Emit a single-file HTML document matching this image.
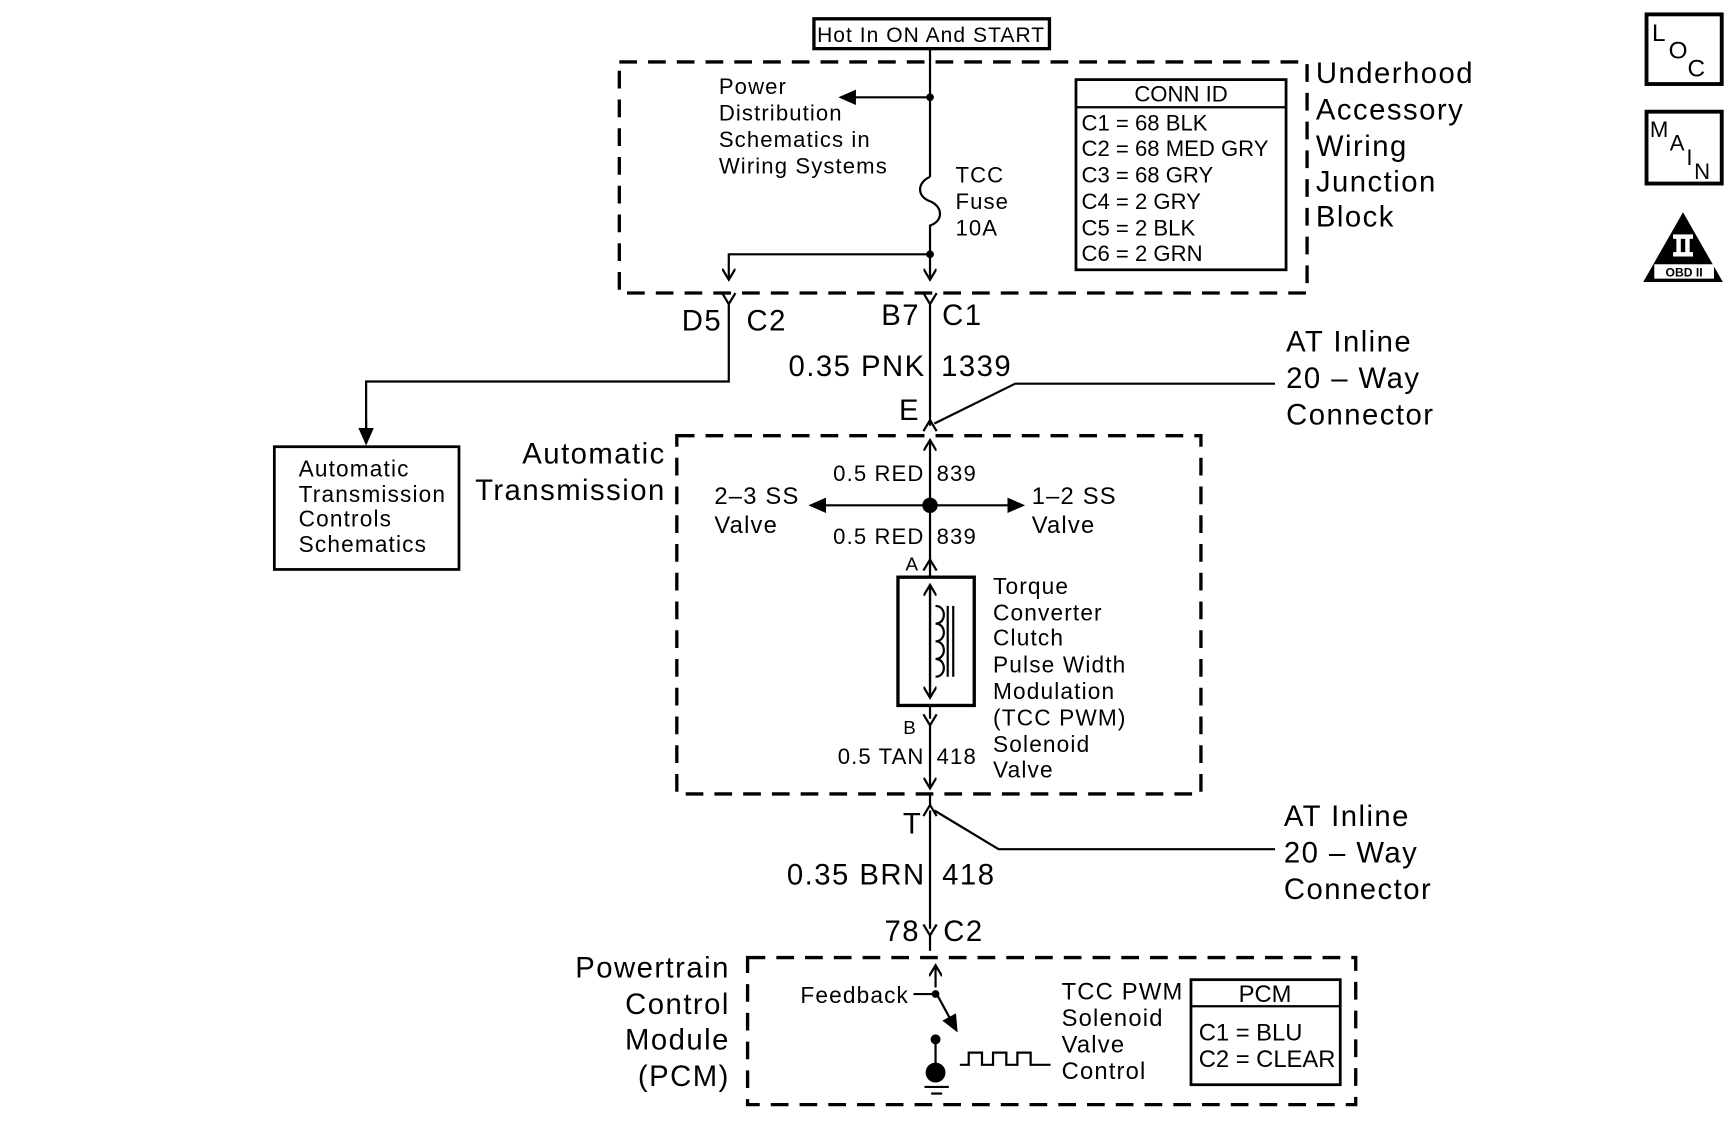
<!DOCTYPE html><html><head><style>html,body{margin:0;padding:0;background:#fff}svg{display:block}text{font-family:"Liberation Sans",sans-serif;fill:#000;letter-spacing:0.05em}.n text{letter-spacing:0}</style></head><body>
<svg width="1734" height="1140" viewBox="0 0 1568 1031" xmlns="http://www.w3.org/2000/svg">
<defs><marker id="a" markerWidth="10" markerHeight="10" refX="9" refY="5" orient="auto" markerUnits="userSpaceOnUse"><path d="M0,0 L10,5 L0,10 z" fill="#000"/></marker>
<marker id="b" markerWidth="16" markerHeight="14" refX="14" refY="7" orient="auto" markerUnits="userSpaceOnUse"><path d="M0,0 L16,7 L0,14 z" fill="#000"/></marker>
<marker id="o" markerWidth="12" markerHeight="12" refX="10" refY="6" orient="auto" markerUnits="userSpaceOnUse"><path d="M0,0 L10,6 L0,12" fill="none" stroke="#000" stroke-width="2"/></marker></defs>
<g fill="none" stroke="#000">
<rect x="736" y="17" width="213" height="27" stroke-width="3"/>
<g stroke-width="3" stroke-dasharray="16,10">
<rect x="560" y="56" width="622" height="209"/>
<rect x="612" y="394" width="474" height="324"/>
<rect x="676" y="866" width="550" height="133"/>
</g>
<g stroke-width="2">
<line x1="841" y1="44" x2="841" y2="160"/>
<line x1="841" y1="88" x2="760" y2="88" marker-end="url(#b)"/>
<path d="M841,160 c-12,5 -12,18 0,22 c12,5 12,18 0,22 L841,253" marker-end="url(#o)"/>
<path d="M841,230 H659 V253" marker-end="url(#o)"/>
<path d="M653,265 L659,275 L665,265 M659,275 V345 H331 V400" /><line x1="331" y1="380" x2="331" y2="401" marker-end="url(#b)"/>
<path d="M835,265 L841,275 L847,265 M841,275 V385"/>
<path d="M835,390 L841,380 L847,390 M845,383 L918,347 H1153"/>
<line x1="841" y1="457" x2="841" y2="398" marker-end="url(#o)"/>
<line x1="841" y1="457" x2="733" y2="457" marker-end="url(#b)"/>
<line x1="841" y1="457" x2="925" y2="457" marker-end="url(#b)"/>
<line x1="841" y1="457" x2="841" y2="512"/>
<path d="M835,516 L841,506 L847,516 M841,508 V522"/>
<rect x="812" y="522" width="69" height="116" stroke-width="3"/>
<line x1="841" y1="530" x2="841" y2="631" marker-end="url(#o)"/><line x1="841" y1="630" x2="841" y2="529" marker-end="url(#o)"/>
<path d="M846,548 c10,0 10,16 0,16 c10,0 10,16 0,16 c10,0 10,16 0,16 c10,0 10,16 0,16"/>
<line x1="857" y1="548" x2="857" y2="612"/><line x1="862" y1="548" x2="862" y2="612"/>
<path d="M841,638 V650 M835,646 L841,656 L847,646 M841,656 V713" marker-end="url(#o)"/>
<path d="M841,718 V728 M835,738 L841,728 L847,738 M845,733 L903,768 H1153 M841,733 V840"/>
<path d="M835,836 L841,846 L847,836 M841,846 V860"/>
<line x1="846" y1="893" x2="846" y2="873" marker-end="url(#o)"/>
<line x1="826" y1="899" x2="846" y2="899"/>
<line x1="846" y1="897" x2="865" y2="932" marker-end="url(#b)"/>
<line x1="846" y1="940" x2="846" y2="970"/>
<line x1="836" y1="983" x2="858" y2="983"/><line x1="842" y1="989" x2="852" y2="989"/>
<path d="M868,963 H876 V952 H888 V963 H898 V952 H910 V963 H920 V952 H932 V963 H950"/>
<rect x="973" y="72" width="190" height="172" stroke-width="2.5"/><line x1="973" y1="97" x2="1163" y2="97"/>
<rect x="1077" y="886" width="135" height="95" stroke-width="2.5"/><line x1="1077" y1="910" x2="1212" y2="910"/>
<rect x="248" y="404" width="167" height="111" stroke-width="2.5"/>
<rect x="1489" y="13" width="68" height="63" stroke-width="3.5"/>
<rect x="1489" y="101" width="68" height="65" stroke-width="3.5"/>
</g>
</g>
<circle cx="841" cy="88" r="3.5"/><circle cx="841" cy="230" r="3.5"/><circle cx="841" cy="457" r="7"/><circle cx="846" cy="899" r="3.5"/><circle cx="846" cy="940" r="4.5"/><circle cx="846" cy="970" r="9"/>
<path d="M1522,192 L1558,255 L1486,255 z"/>
<rect x="1513" y="212" width="18" height="4" fill="#fff"/><rect x="1513" y="228" width="18" height="4" fill="#fff"/><rect x="1516" y="214" width="4" height="16" fill="#fff"/><rect x="1524" y="214" width="4" height="16" fill="#fff"/>
<rect x="1496" y="239" width="54" height="13" fill="#fff"/>
<g class="n"><text x="1523" y="250" font-size="11" text-anchor="middle" font-weight="bold">OBD II</text>
<text font-size="22" x="1494" y="37">L</text><text font-size="22" x="1509" y="53">O</text><text font-size="22" x="1526" y="69">C</text>
<text font-size="20" x="1492" y="124">M</text><text font-size="20" x="1510" y="136">A</text><text font-size="20" x="1525" y="149">I</text><text font-size="20" x="1532" y="162">N</text></g>
<text x="842" y="38" font-size="19" text-anchor="middle">Hot In ON And START</text>
<g font-size="20"><text x="650" y="85">Power</text><text x="650" y="109">Distribution</text><text x="650" y="133">Schematics in</text><text x="650" y="157">Wiring Systems</text>
<text x="864" y="165">TCC</text><text x="864" y="189">Fuse</text><text x="864" y="213">10A</text>
<g class="n">
<text x="1068" y="92" text-anchor="middle">CONN ID</text>
<text x="978" y="118">C1 = 68 BLK</text><text x="978" y="141">C2 = 68 MED GRY</text><text x="978" y="165">C3 = 68 GRY</text><text x="978" y="189">C4 = 2 GRY</text><text x="978" y="213">C5 = 2 BLK</text><text x="978" y="236">C6 = 2 GRN</text>
</g>
<text x="836" y="435" text-anchor="end">0.5 RED</text><text x="847" y="435">839</text><text x="836" y="492" text-anchor="end">0.5 RED</text><text x="847" y="492">839</text>
<text x="836" y="691" text-anchor="end">0.5 TAN</text><text x="847" y="691">418</text>
<text x="831" y="516" text-anchor="end" font-size="17">A</text><text x="829" y="664" text-anchor="end" font-size="17">B</text>
</g>
<g font-size="20.5"><text x="898" y="537">Torque</text><text x="898" y="561">Converter</text><text x="898" y="584">Clutch</text><text x="898" y="608">Pulse Width</text><text x="898" y="632">Modulation</text><text x="898" y="656">(TCC PWM)</text><text x="898" y="680">Solenoid</text><text x="898" y="703">Valve</text>
<text x="270" y="431">Automatic</text><text x="270" y="454">Transmission</text><text x="270" y="476">Controls</text><text x="270" y="499">Schematics</text>
<text x="822" y="907" text-anchor="end">Feedback</text></g>
<g font-size="21.5"><text x="646" y="456">2–3 SS</text><text x="646" y="482">Valve</text><text x="933" y="456">1–2 SS</text><text x="933" y="482">Valve</text>
<text x="960" y="904">TCC PWM</text><text x="960" y="928">Solenoid</text><text x="960" y="952">Valve</text><text x="960" y="976">Control</text>
<g class="n"><text x="1144" y="906" text-anchor="middle">PCM</text><text x="1084" y="941">C1 = BLU</text><text x="1084" y="965">C2 = CLEAR</text></g></g>
<g font-size="26.5"><text x="1190" y="75">Underhood</text><text x="1190" y="108">Accessory</text><text x="1190" y="141">Wiring</text><text x="1190" y="173">Junction</text><text x="1190" y="205">Block</text>
<text x="653" y="299" text-anchor="end">D5</text><text x="675" y="299">C2</text><text x="832" y="294" text-anchor="end">B7</text><text x="852" y="294">C1</text>
<text x="837" y="340" text-anchor="end">0.35 PNK</text><text x="851" y="340">1339</text>
<text x="832" y="380" text-anchor="end">E</text>
<text x="1163" y="318">AT Inline</text><text x="1163" y="351">20 – Way</text><text x="1163" y="384">Connector</text>
<text x="602" y="419" text-anchor="end">Automatic</text><text x="602" y="452" text-anchor="end">Transmission</text>
<text x="834" y="754" text-anchor="end">T</text>
<text x="1161" y="747">AT Inline</text><text x="1161" y="780">20 – Way</text><text x="1161" y="813">Connector</text>
<text x="837" y="800" text-anchor="end">0.35 BRN</text><text x="852" y="800">418</text>
<text x="832" y="851" text-anchor="end">78</text><text x="853" y="851">C2</text>
<text x="660" y="884" text-anchor="end">Powertrain</text><text x="660" y="917" text-anchor="end">Control</text><text x="660" y="949" text-anchor="end">Module</text><text x="660" y="982" text-anchor="end">(PCM)</text></g>
</svg></body></html>
